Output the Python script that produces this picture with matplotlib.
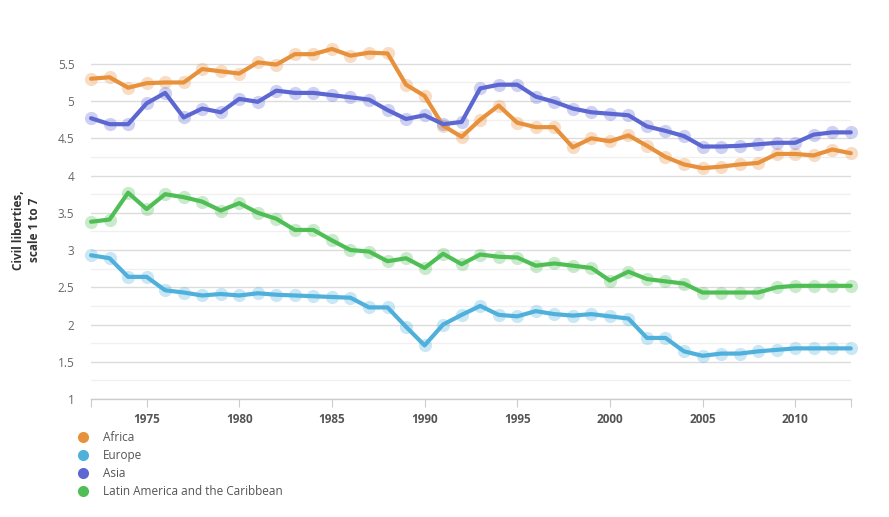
import numpy as np
import matplotlib
matplotlib.use("Agg")
import matplotlib.pyplot as plt
from matplotlib.lines import Line2D

plt.rcParams['font.family'] = ['Open Sans', 'DejaVu Sans']

years = list(range(1972, 2014))

africa = [5.30, 5.32, 5.18, 5.24, 5.25, 5.25, 5.43, 5.40, 5.37, 5.52,
          5.49, 5.63, 5.63, 5.70, 5.61, 5.65, 5.64, 5.22, 5.07, 4.67,
          4.52, 4.75, 4.94, 4.71, 4.65, 4.65, 4.38, 4.50, 4.46, 4.54,
          4.40, 4.25, 4.15, 4.10, 4.12, 4.15, 4.17, 4.29, 4.29, 4.27,
          4.35, 4.30]
europe = [2.93, 2.89, 2.64, 2.64, 2.46, 2.43, 2.39, 2.41, 2.39, 2.42,
          2.40, 2.39, 2.38, 2.37, 2.36, 2.23, 2.23, 1.97, 1.72, 2.00,
          2.13, 2.25, 2.13, 2.11, 2.18, 2.14, 2.12, 2.14, 2.11, 2.08,
          1.82, 1.82, 1.64, 1.58, 1.61, 1.61, 1.64, 1.66, 1.68, 1.68,
          1.68, 1.68]
asia = [4.77, 4.69, 4.69, 4.97, 5.11, 4.78, 4.90, 4.85, 5.03, 4.99,
        5.14, 5.11, 5.11, 5.08, 5.05, 5.02, 4.88, 4.76, 4.81, 4.69,
        4.72, 5.17, 5.22, 5.22, 5.06, 4.99, 4.90, 4.85, 4.83, 4.81,
        4.66, 4.60, 4.53, 4.39, 4.39, 4.40, 4.42, 4.44, 4.44, 4.55,
        4.58, 4.58]
latam = [3.38, 3.41, 3.77, 3.55, 3.75, 3.71, 3.65, 3.53, 3.63, 3.50,
         3.42, 3.27, 3.27, 3.13, 3.00, 2.98, 2.85, 2.89, 2.76, 2.95,
         2.81, 2.94, 2.91, 2.90, 2.79, 2.82, 2.79, 2.76, 2.59, 2.71,
         2.61, 2.58, 2.55, 2.43, 2.43, 2.43, 2.43, 2.50, 2.52, 2.52,
         2.52, 2.52]

names = ['Africa', 'Europe', 'Asia', 'Latin America and the Caribbean']
series = [africa, europe, asia, latam]
colors = ['#e8913c', '#4fb0dc', '#5d67d1', '#4fbf55']

fig = plt.figure(figsize=(8.89, 5.17), dpi=100)
ax = fig.add_axes([0.1024, 0.2282, 0.8546, 0.68])

for vals, c in zip(series, colors):
    ax.plot(years, vals, 'o', ms=9.5, color=c, alpha=0.3, mec='none',
            zorder=3, clip_on=False)
    ax.plot(years, vals, '-', lw=3, color=c, zorder=4, solid_capstyle='round',
            clip_on=False)

ax.set_xlim(1972, 2013)
ax.set_ylim(1, 5.72)
ax.set_yticks([1, 1.5, 2, 2.5, 3, 3.5, 4, 4.5, 5, 5.5])
ax.set_yticklabels(['1', '1.5', '2', '2.5', '3', '3.5', '4', '4.5', '5', '5.5'])
ax.set_yticks(np.arange(1.25, 5.6, 0.5), minor=True)
ax.set_xticks([1972, 1975, 1980, 1985, 1990, 1995, 2000, 2005, 2010, 2013])
ax.set_xticklabels(['', '1975', '1980', '1985', '1990', '1995', '2000',
                    '2005', '2010', ''])

ax.grid(axis='y', which='major', color='#dcdcdc', lw=1)
ax.grid(axis='y', which='minor', color='#f0f0f0', lw=1)
ax.set_axisbelow(True)

for s in ['top', 'right', 'left']:
    ax.spines[s].set_visible(False)
ax.spines['bottom'].set_color('#cccccc')
ax.spines['bottom'].set_linewidth(1)

ax.tick_params(axis='y', which='both', length=0, pad=12, labelsize=8.5,
               labelcolor='#666666')
ax.tick_params(axis='x', length=6, color='#cccccc', pad=4, labelsize=8.5,
               labelcolor='#555555')
for t in ax.get_xticklabels():
    t.set_fontweight('bold')

fig.text(0.030, 0.555, 'Civil liberties,\nscale 1 to 7', rotation=90,
         ha='center', va='center', fontsize=8.5, fontweight='bold',
         color='#333333', linespacing=1.3)

handles = [Line2D([], [], marker='o', ls='none', ms=8, color=c, mec='none')
           for c in colors]
fig.legend(handles, names, loc='upper left', bbox_to_anchor=(0.083, 0.175),
           frameon=False, fontsize=8.5, handlelength=0.8, handletextpad=1.3,
           labelspacing=0.42, borderaxespad=0, labelcolor='#555555')

fig.savefig('out.png', dpi=100)
